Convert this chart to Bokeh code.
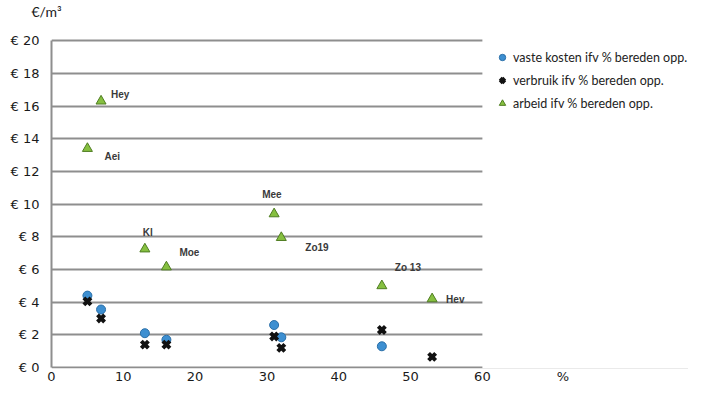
from bokeh.plotting import figure
from bokeh.models import (Range1d, ColumnDataSource, Legend, LegendItem,
                          FixedTicker, BoxAnnotation)
from bokeh.embed import file_html
from bokeh.resources import INLINE
from bokeh.core.properties import value

# ---- data ----
names = ["Aei", "Hey", "Kl", "Moe", "Mee", "Zo19", "Zo 13", "Hev"]
pct = [5.0, 6.9, 13.0, 16.0, 31.0, 32.0, 46.0, 53.0]
arbeid = [13.4, 16.3, 7.25, 6.15, 9.4, 7.95, 5.0, 4.2]
verbruik = [4.05, 3.0, 1.4, 1.4, 1.9, 1.2, 2.3, 0.65]
vaste_pct = [5.0, 6.9, 13.0, 16.0, 31.0, 32.0, 46.0]
vaste = [4.4, 3.55, 2.1, 1.7, 2.6, 1.85, 1.3]
y_ticks = [0, 2, 4, 6, 8, 10, 12, 14, 16, 18, 20]
x_ticks = [0, 10, 20, 30, 40, 50, 60]
x_unit_pos = 71.2
series_names = ["vaste kosten ifv % bereden opp.",
                "verbruik ifv % bereden opp.",
                "arbeid ifv % bereden opp."]

# label placement (pixel offsets, styling only)
label_dx = [17, 10, -2, 13, -12, 24, 13, 14]
label_dy = [8, -7, -17, -15, -19, 10, -18, 1]

p = figure(width=688, height=387, output_backend="svg", toolbar_location=None,
           x_range=Range1d(0, 88.7), y_range=Range1d(-0.06, 21.05),
           min_border_left=51, min_border_right=0, min_border_top=22,
           min_border_bottom=19)
p.outline_line_color = None
p.background_fill_color = "white"

p.title.text = "€/m³"
p.title.align = "left"
p.title.vertical_align = "top"
p.title.offset = -20
p.title.standoff = 4
p.title.text_font = "Lato"
p.title.text_font_size = "14px"
p.title.text_font_style = "normal"
p.title.text_color = "#1a1a1a"

p.xgrid.visible = False
p.ygrid.ticker = FixedTicker(ticks=y_ticks)
p.ygrid.grid_line_color = "#8e8e8e"
p.ygrid.grid_line_width = 2

# gridlines stop at the end of the x scale (60 %)
p.add_layout(BoxAnnotation(left=x_ticks[-1], fill_color="white", fill_alpha=1,
                           line_color=None, level="underlay"))

p.yaxis.ticker = FixedTicker(ticks=y_ticks)
p.yaxis.bounds = (y_ticks[0], y_ticks[-1])
p.yaxis.major_label_overrides = {t: "€ " + str(t) for t in y_ticks}
p.yaxis.axis_line_color = "#8e8e8e"
p.yaxis.axis_line_width = 2
p.yaxis.major_tick_line_color = None
p.yaxis.minor_tick_line_color = None
p.yaxis.major_tick_out = 0
p.yaxis.major_tick_in = 0
p.yaxis.major_label_standoff = 12
p.yaxis.major_label_text_font = "DejaVu Sans"
p.yaxis.major_label_text_font_size = "13px"
p.yaxis.major_label_text_color = "#1a1a1a"

p.xaxis.ticker = FixedTicker(ticks=x_ticks + [x_unit_pos])
p.xaxis.major_label_overrides = {x_unit_pos: "%"}
p.xaxis.axis_line_color = None
p.xaxis.major_tick_line_color = None
p.xaxis.minor_tick_line_color = None
p.xaxis.major_tick_out = 0
p.xaxis.major_tick_in = 0
p.xaxis.major_label_standoff = 0
p.xaxis.major_label_text_font = "DejaVu Sans"
p.xaxis.major_label_text_font_size = "13px"
p.xaxis.major_label_text_color = "#1a1a1a"

r_vaste = p.scatter(vaste_pct, vaste, marker="circle", size=9,
                    fill_color="#3d8fd1", line_color="#2a6fa8", line_width=1)
r_verb = p.scatter(pct, verbruik, marker="x", size=10,
                   line_color="#111111", line_width=4)
r_arb = p.scatter(pct, arbeid, marker="triangle", size=10,
                  fill_color="#86c040", line_color="#4f7d22", line_width=1)

src = ColumnDataSource(dict(x=pct, y=arbeid, t=names, dx=label_dx, dy=label_dy))
p.text(x="x", y="y", text="t", x_offset="dx", y_offset="dy", source=src,
       text_font=value("Liberation Sans"), text_font_size="10px",
       text_font_style="bold", text_color="#3a3a3a",
       text_align="left", text_baseline="middle")

legend = Legend(items=[LegendItem(label=series_names[0], renderers=[r_vaste]),
                       LegendItem(label=series_names[1], renderers=[r_verb]),
                       LegendItem(label=series_names[2], renderers=[r_arb])],
                location=(443, 257))
legend.border_line_color = None
legend.background_fill_alpha = 0
legend.padding = 0
legend.margin = 0
legend.spacing = 7
legend.glyph_width = 16
legend.glyph_height = 16
legend.label_height = 16
legend.label_standoff = 3
legend.label_text_font = "Lato"
legend.label_text_font_size = "12.5px"
legend.label_text_color = "#222222"
p.add_layout(legend, "center")

open("out.html", "w").write(file_html(p, INLINE))
